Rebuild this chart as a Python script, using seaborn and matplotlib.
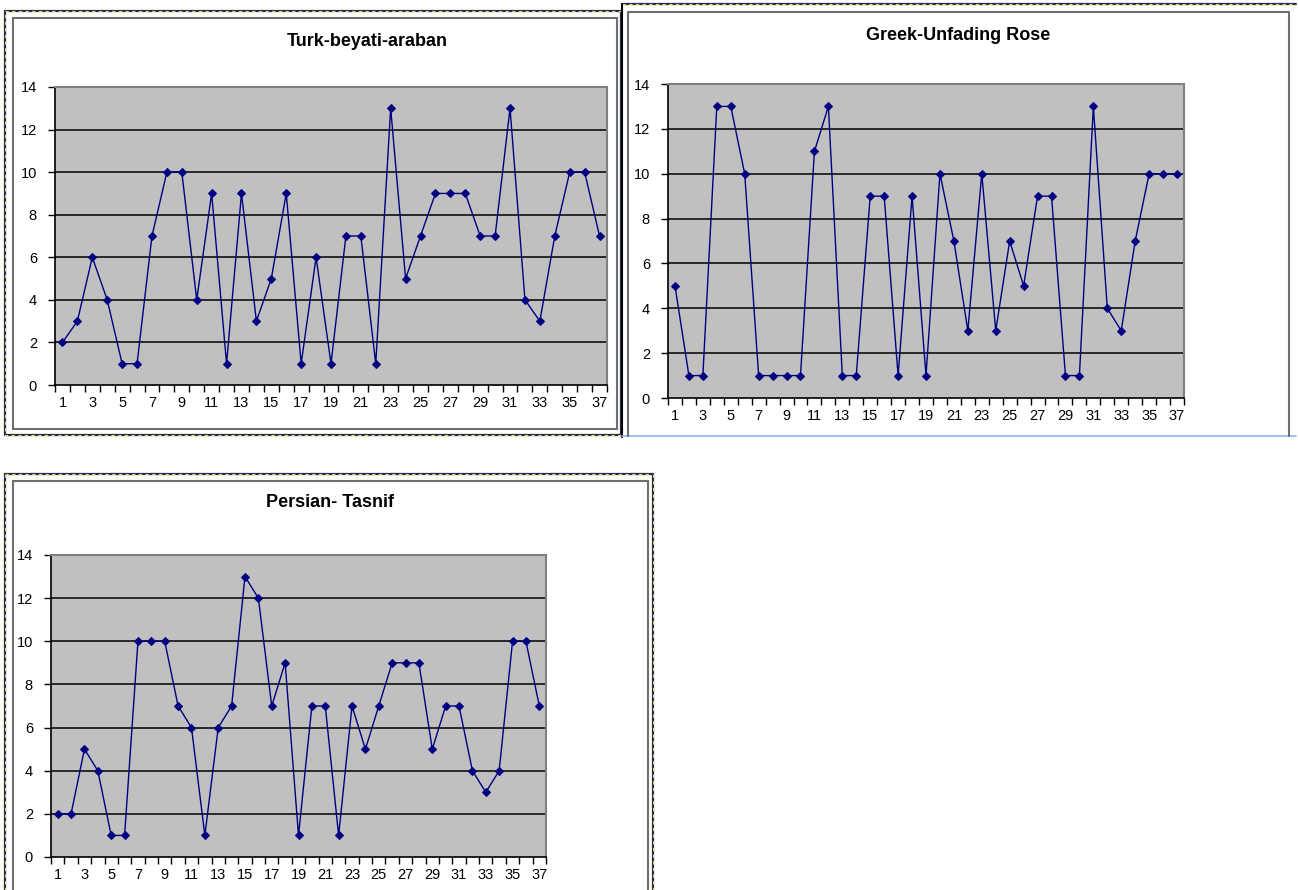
import numpy as np
import pandas as pd
import matplotlib
matplotlib.use("Agg")
import matplotlib.pyplot as plt
import seaborn as sns
from matplotlib.patches import Rectangle
from matplotlib.lines import Line2D
from matplotlib.ticker import FixedLocator

sns.set_style("white")
plt.rcParams['font.family'] = ['Liberation Sans', 'DejaVu Sans']

positions = list(range(1, 38))
turk_values = [2, 3, 6, 4, 1, 1, 7, 10, 10, 4, 9, 1, 9, 3, 5, 9, 1, 6, 1, 7, 7, 1, 13, 5, 7, 9, 9, 9, 7, 7, 13, 4, 3, 7, 10, 10, 7]
greek_values = [5, 1, 1, 13, 13, 10, 1, 1, 1, 1, 11, 13, 1, 1, 9, 9, 1, 9, 1, 10, 7, 3, 10, 3, 7, 5, 9, 9, 1, 1, 13, 4, 3, 7, 10, 10, 10]
persian_values = [2, 2, 5, 4, 1, 1, 10, 10, 10, 7, 6, 1, 6, 7, 13, 12, 7, 9, 1, 7, 7, 1, 7, 5, 7, 9, 9, 9, 5, 7, 7, 4, 3, 4, 10, 10, 7]
titles = ["Turk-beyati-araban", "Greek-Unfading Rose", "Persian- Tasnif"]
y_ticks = [0, 2, 4, 6, 8, 10, 12, 14]
x_labels = [str(i) for i in range(1, 38, 2)]

W, H = 1298, 890
fig = plt.figure(figsize=(W / 100, H / 100), dpi=100)
fig.patch.set_facecolor("white")


def px_rect(x0, y0, x1, y1):
    return [x0 / W, 1 - y1 / H, (x1 - x0) / W, (y1 - y0) / H]


def fline(xs, ys, **kw):
    fig.lines.append(Line2D([x / W for x in xs], [1 - y / H for y in ys],
                            transform=fig.transFigure, **kw))


def dashed(xs, ys):
    fline(xs, ys, color="#1f2a5a", lw=1.6, zorder=0)
    fline(xs, ys, color="#e8d840", lw=0.8, ls=(0, (3, 3)), zorder=0)


def inner(x0, y0, x1, y1):
    fig.patches.append(Rectangle((x0 / W, 1 - y1 / H), (x1 - x0) / W, (y1 - y0) / H,
                                 transform=fig.transFigure, fill=False,
                                 edgecolor="#6e6e6e", lw=1.5, zorder=0))


# chart 1 frame
dashed([5, 621, 621, 5, 5], [11, 11, 435, 435, 11])
inner(13, 18, 617, 429)
# chart 2 frame
dashed([622, 1296], [4, 4])
fline([622, 622], [4, 437], color="black", lw=1.5, zorder=0)
fline([622, 1296], [436, 436], color="#8fb0f0", lw=1.2, zorder=0)
fline([628, 628], [12, 436], color="#6e6e6e", lw=1.5, zorder=0)
fline([628, 1289, 1289], [12, 12, 436], color="#6e6e6e", lw=1.5, zorder=0)
# chart 3 frame
dashed([5, 653], [474, 474])
dashed([5, 5], [474, 892])
dashed([653, 653], [474, 892])
inner(13, 481, 648, 895)

specs = [
    (turk_values, (55, 87, 607, 385), titles[0], (367, 42)),
    (greek_values, (668, 84, 1184, 398), titles[1], (958, 36)),
    (persian_values, (51, 555, 546, 857), titles[2], (330, 503)),
]

for vals, (x0, y0, x1, y1), title, (tx, ty) in specs:
    ax = fig.add_axes(px_rect(x0, y0, x1, y1))
    df = pd.DataFrame({"pos": positions, "val": vals})
    ax.set_facecolor("#C0C0C0")
    for g in y_ticks[1:-1]:
        ax.axhline(g, color="black", lw=1.1, zorder=1)
    sns.lineplot(data=df, x="pos", y="val", ax=ax, color="#000080", lw=1.0,
                 marker="D", markersize=4.5, markeredgecolor="#000080",
                 markerfacecolor="#000080", zorder=3)
    ax.set_xlim(0.5, 37.5)
    ax.set_ylim(0, 14)
    ax.set_xlabel("")
    ax.set_ylabel("")
    ax.xaxis.set_major_locator(FixedLocator(list(range(1, 38, 2))))
    ax.set_xticklabels(x_labels)
    ax.xaxis.set_minor_locator(FixedLocator([i + 0.5 for i in range(0, 38)]))
    ax.tick_params(axis="x", which="major", length=0, pad=8, labelsize=10.5, colors="black")
    ax.tick_params(axis="x", which="minor", length=5, width=1, direction="out", color="black", bottom=True)
    ax.set_yticks(y_ticks)
    ax.tick_params(axis="y", which="major", length=5, width=1, direction="out", pad=8,
                   labelsize=10.5, colors="black", left=True)
    for side in ["top", "right"]:
        ax.spines[side].set_visible(True)
        ax.spines[side].set_color("#808080")
        ax.spines[side].set_linewidth(1.5)
    for side in ["left", "bottom"]:
        ax.spines[side].set_visible(True)
        ax.spines[side].set_color("black")
        ax.spines[side].set_linewidth(1.2)
    fig.text(tx / W, 1 - ty / H, title, ha="center", va="center",
             fontsize=13, fontweight="bold", color="black")

fig.savefig("out.png", dpi=100, facecolor="white")
